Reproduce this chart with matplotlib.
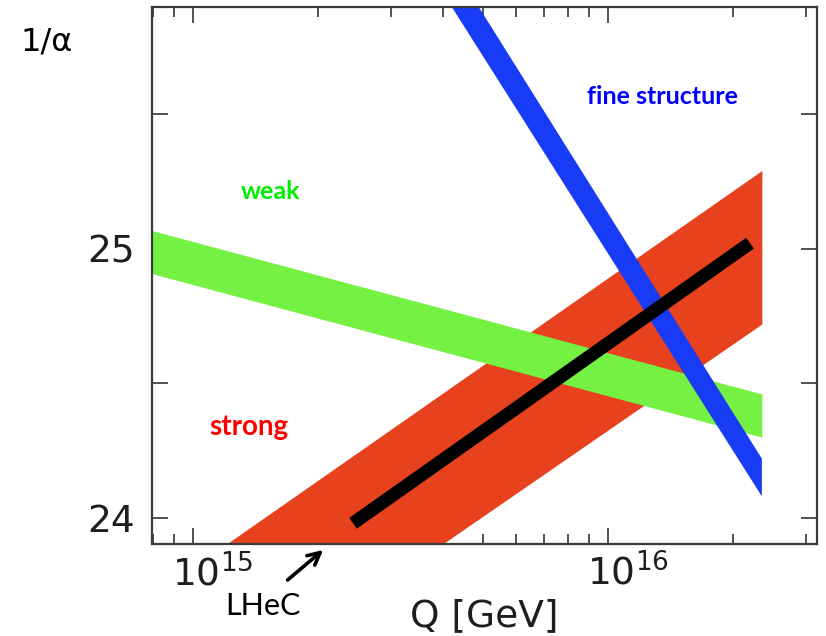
import numpy as np
import matplotlib
matplotlib.use("Agg")
import matplotlib.pyplot as plt
from matplotlib.ticker import FixedLocator, LogLocator, FuncFormatter, NullFormatter
from matplotlib.transforms import ScaledTranslation

plt.rcParams["font.family"] = ["DejaVu Sans"]
plt.rcParams["mathtext.fontset"] = "dejavusans"

# Scale range over which the bands are drawn [GeV]
q_band = [7.0e14, 2.35e16]

# Inverse couplings 1/alpha: upper and lower edge of each band at the two scales
weak_upper = [25.09, 24.46]
weak_lower = [24.93, 24.30]
strong_upper = [23.65, 25.29]
strong_lower = [23.10, 24.72]
fine_upper = [27.97, 24.22]
fine_lower = [27.79, 24.08]

# LHeC projection of the strong coupling running
lhec_q = [2.43e15, 2.20e16]
lhec_inv = [23.98, 25.02]

x_major = [1e15, 1e16]
y_ticks = [24.0, 24.5, 25.0, 25.5]

fig = plt.figure(figsize=(8.26, 6.36), dpi=100)
ax = fig.add_axes([152 / 826, 92 / 636, 665 / 826, 537 / 636])
ax.set_xscale("log")
ax.set_xlim(10 ** 14.901, 10 ** 16.504)
ax.set_ylim(23.903, 25.897)
ax.set_axisbelow(True)

ax.fill_between(q_band, strong_lower, strong_upper, color="#E7411D", lw=0, zorder=1)
ax.fill_between(q_band, weak_lower, weak_upper, color="#74F142", lw=0, zorder=1.1)
ax.fill_between(q_band, fine_lower, fine_upper, color="#183BF5", lw=0, zorder=1.2)
ax.plot(lhec_q, lhec_inv, color="black", lw=9.5, solid_capstyle="butt", zorder=1.3)

# axes frame and ticks
for s in ax.spines.values():
    s.set_color("#3a3a3a")
    s.set_linewidth(1.6)

ax.xaxis.set_major_locator(FixedLocator(x_major))
ax.xaxis.set_major_formatter(
    FuncFormatter(lambda v, p: r"$\mathdefault{10^{%d}}$" % round(np.log10(v))))
ax.xaxis.set_minor_locator(LogLocator(base=10, subs=np.arange(2, 10)))
ax.xaxis.set_minor_formatter(NullFormatter())
ax.yaxis.set_major_locator(FixedLocator(y_ticks))
ax.yaxis.set_major_formatter(
    FuncFormatter(lambda v, p: f"{v:.0f}" if abs(v - round(v)) < 1e-6 else ""))

ax.tick_params(which="both", direction="in", top=True, right=True,
               color="#333333", width=1.2)
ax.tick_params(which="major", length=11.5, labelsize=27, labelcolor="#1e1e1e")
ax.tick_params(which="minor", length=7)
ax.tick_params(axis="x", which="major", pad=7)
ax.tick_params(axis="y", which="major", pad=12)

# keep the mantissa of each decade label centred on its tick
for tick in ax.xaxis.get_major_ticks():
    tick.label1.set_transform(tick.label1.get_transform()
                              + ScaledTranslation(0.2, 0, fig.dpi_scale_trans))

ax.set_xlabel("Q [GeV]", fontsize=27, color="#1e1e1e", labelpad=3)

fig.text(20 / 826, 1 - 42 / 636, "1/α", fontsize=23, va="center", ha="left")

ax.text(0.178, 0.657, "weak", transform=ax.transAxes, color="#00EE00",
        fontsize=18, fontweight="bold", ha="center", va="center", family="Lato")
ax.text(0.145, 0.217, "strong", transform=ax.transAxes, color="#FF0000",
        fontsize=20, fontweight="bold", ha="center", va="center", family="Lato")
ax.text(0.767, 0.834, "fine structure", transform=ax.transAxes, color="#0000FF",
        fontsize=18, fontweight="bold", ha="center", va="center", family="Lato")

ax.annotate("", xy=(2.06e15, -0.011), xycoords=("data", "axes fraction"),
            xytext=(1.69e15, -0.067), textcoords=("data", "axes fraction"),
            arrowprops=dict(arrowstyle="->", lw=2.6, color="black",
                            mutation_scale=22, shrinkA=0, shrinkB=0),
            annotation_clip=False)
ax.text(1.476e15, -0.1155, "LHeC", transform=ax.get_xaxis_transform(),
        fontsize=22, ha="center", va="center", family="Lato", color="black")

fig.savefig("out.png", dpi=100)
